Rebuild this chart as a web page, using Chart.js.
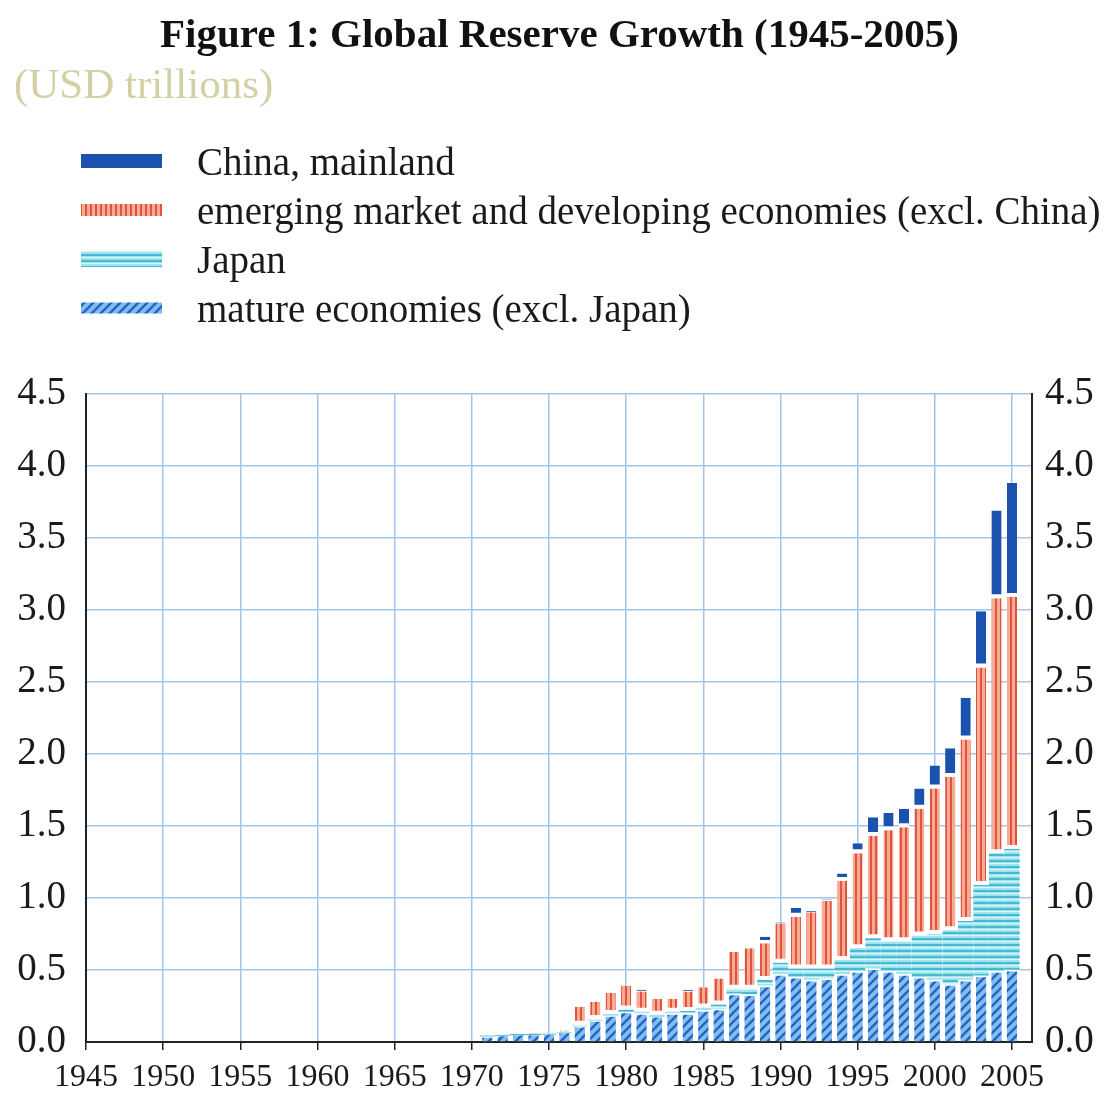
<!DOCTYPE html>
<html>
<head>
<meta charset="utf-8">
<script src="https://cdn.jsdelivr.net/npm/chart.js@4.4.1/dist/chart.umd.min.js"></script>
<style>
  body { margin: 0; background: #fff; }
</style>
</head>
<body>
<canvas id="reserves" width="1105" height="1093"></canvas>
<script>
// reserves by year, USD trillions
var years = [1971, 1972, 1973, 1974, 1975, 1976, 1977, 1978, 1979, 1980,
             1981, 1982, 1983, 1984, 1985, 1986, 1987, 1988, 1989, 1990,
             1991, 1992, 1993, 1994, 1995, 1996, 1997, 1998, 1999, 2000,
             2001, 2002, 2003, 2004, 2005];
var mature = [0.03, 0.04, 0.045, 0.045, 0.05, 0.06, 0.10, 0.14, 0.175, 0.20,
              0.19, 0.17, 0.19, 0.19, 0.21, 0.22, 0.325, 0.32, 0.38, 0.46,
              0.44, 0.42, 0.43, 0.46, 0.48, 0.50, 0.48, 0.46, 0.44, 0.42,
              0.39, 0.42, 0.45, 0.48, 0.49];
var japan = [0.015, 0.01, 0.01, 0.01, 0.01, 0.01, 0.02, 0.02, 0.02, 0.025,
             0.02, 0.02, 0.02, 0.025, 0.03, 0.04, 0.045, 0.05, 0.05, 0.09,
             0.07, 0.09, 0.08, 0.11, 0.17, 0.22, 0.22, 0.24, 0.30, 0.33,
             0.385, 0.42, 0.64, 0.83, 0.85];
var emerging = [0, 0, 0, 0.005, 0.005, 0.01, 0.125, 0.12, 0.145, 0.165,
                0.14, 0.11, 0.09, 0.135, 0.14, 0.18, 0.255, 0.28, 0.255, 0.27,
                0.36, 0.39, 0.47, 0.55, 0.66, 0.71, 0.77, 0.79, 0.88, 1.01,
                1.065, 1.26, 1.51, 1.77, 1.75];
var china = [0, 0, 0, 0, 0, 0, 0, 0, 0, 0,
             0.012, 0, 0, 0.012, 0, 0, 0, 0, 0.045, 0.01,
             0.06, 0.01, 0.01, 0.05, 0.07, 0.13, 0.12, 0.13, 0.14, 0.16,
             0.20, 0.29, 0.39, 0.61, 0.79];
var xTicks = [1945, 1950, 1955, 1960, 1965, 1970, 1975, 1980, 1985, 1990, 1995, 2000, 2005];

var serif = '"Liberation Serif", "Times New Roman", serif';
Chart.defaults.font.family = serif;
Chart.defaults.color = '#1a1a1a';

var canvas = document.getElementById('reserves');
var ctx = canvas.getContext('2d');

// little tiles for the hatched fills
function makePattern(w, h, draw) {
  var c = document.createElement('canvas');
  c.width = w;
  c.height = h;
  draw(c.getContext('2d'), w, h);
  return ctx.createPattern(c, 'repeat');
}

var hatchBlue = makePattern(9, 9, function (g, w, h) {
  g.fillStyle = '#80beef';
  g.fillRect(0, 0, w, h);
  g.strokeStyle = '#2863c4';
  g.lineWidth = 2.4;
  g.beginPath();
  g.moveTo(0, h); g.lineTo(w, 0);
  g.moveTo(-2, 2); g.lineTo(2, -2);
  g.moveTo(w - 2, h + 2); g.lineTo(w + 2, h - 2);
  g.stroke();
});
var stripeCyan = makePattern(6, 6, function (g, w, h) {
  g.fillStyle = '#9fe3ee';
  g.fillRect(0, 0, w, h);
  g.fillStyle = '#45b8d3';
  g.fillRect(0, 2, w, 2);
  g.fillStyle = '#dcf5f8';
  g.fillRect(0, 5, w, 1);
});
var stripeRed = makePattern(5, 4, function (g, w, h) {
  g.fillStyle = '#f6ab95';
  g.fillRect(0, 0, w, h);
  g.fillStyle = '#e2533e';
  g.fillRect(0, 0, 2, h);
});
var solidBlue = '#1b52ad';

function points(values) {
  return values.map(function (v, i) { return { x: years[i], y: v }; });
}

var gap = function (n) {
  return { top: 0, left: 0, right: 0, bottom: n };
};

var data = {
  datasets: [
    {
      label: 'mature economies (excl. Japan)',
      data: points(mature),
      backgroundColor: hatchBlue,
      barPercentage: 0.66,
      categoryPercentage: 1
    },
    {
      label: 'Japan',
      data: points(japan),
      backgroundColor: stripeCyan,
      borderColor: '#ffffff',
      borderWidth: gap(2),
      borderSkipped: false,
      barPercentage: 1,
      categoryPercentage: 1
    },
    {
      label: 'emerging market and developing economies (excl. China)',
      data: points(emerging),
      backgroundColor: stripeRed,
      borderColor: '#ffffff',
      borderWidth: gap(4),
      borderSkipped: false,
      barPercentage: 0.66,
      categoryPercentage: 1
    },
    {
      label: 'China, mainland',
      data: points(china),
      backgroundColor: solidBlue,
      borderColor: '#ffffff',
      borderWidth: gap(4),
      borderSkipped: false,
      barPercentage: 0.66,
      categoryPercentage: 1
    }
  ]
};

// legend stacked down the left, top series first
var sideLegend = {
  id: 'sideLegend',
  afterDraw: function (chart) {
    var c = chart.ctx;
    var sets = chart.data.datasets.slice().reverse();
    var heights = [14, 12, 16, 11];
    c.save();
    c.font = '39px ' + serif;
    c.textBaseline = 'middle';
    sets.forEach(function (ds, i) {
      var y = 161 + i * 49;
      c.fillStyle = ds.backgroundColor;
      c.fillRect(81, y - heights[i] / 2, 81, heights[i]);
      c.fillStyle = '#1a1a1a';
      c.fillText(ds.label, 197, y + 4);
    });
    c.restore();
  }
};

var yTickFont = { size: 39 };
var gridBlue = '#a3c6e8';

new Chart(ctx, {
  type: 'bar',
  data: data,
  plugins: [sideLegend],
  options: {
    responsive: false,
    animation: false,
    layout: { padding: { left: 14, right: 0, top: 0, bottom: 0 } },
    plugins: {
      legend: { display: false },
      tooltip: { enabled: false },
      title: {
        display: true,
        text: 'Figure 1: Global Reserve Growth (1945-2005)',
        color: '#111',
        font: { size: 41, weight: 'bold' },
        padding: { top: 12, bottom: 0 }
      },
      subtitle: {
        display: true,
        text: '(USD trillions)',
        align: 'start',
        color: '#d2d0a4',
        font: { size: 43 },
        padding: { top: 0, bottom: 281 }
      }
    },
    scales: {
      x: {
        type: 'linear',
        stacked: true,
        offset: false,
        min: 1945,
        max: 2006.3,
        afterBuildTicks: function (axis) {
          axis.ticks = xTicks.map(function (v) { return { value: v }; });
        },
        afterFit: function (axis) { axis.height = 51; },
        ticks: {
          autoSkip: false,
          maxRotation: 0,
          padding: 8,
          font: { size: 32 },
          callback: function (v) { return String(v); }
        },
        grid: { offset: false, color: gridBlue, lineWidth: 1.5, tickColor: '#222', tickLength: 8 },
        border: { color: '#222', width: 2 }
      },
      y: {
        stacked: true,
        min: 0,
        max: 4.5,
        afterFit: function (axis) { axis.width = 72; },
        ticks: {
          stepSize: 0.5,
          padding: 20,
          font: yTickFont,
          callback: function (v) { return v.toFixed(1); }
        },
        grid: { color: gridBlue, lineWidth: 1.5, drawTicks: false },
        border: { color: '#222', width: 2 }
      },
      y2: {
        position: 'right',
        min: 0,
        max: 4.5,
        afterFit: function (axis) { axis.width = 73; },
        ticks: {
          stepSize: 0.5,
          padding: 13,
          font: yTickFont,
          callback: function (v) { return v.toFixed(1); }
        },
        grid: { drawOnChartArea: false, drawTicks: false },
        border: { color: '#222', width: 2 }
      }
    }
  }
});
</script>
</body>
</html>
